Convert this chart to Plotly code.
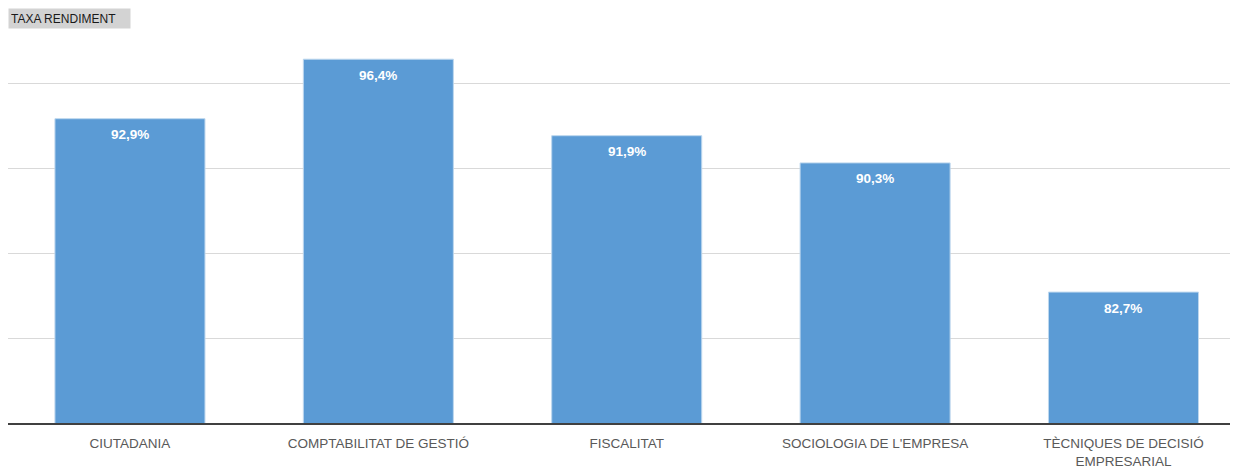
import plotly.graph_objects as go

categories = ["CIUTADANIA", "COMPTABILITAT DE GESTIÓ", "FISCALITAT",
              "SOCIOLOGIA DE L'EMPRESA", "TÈCNIQUES DE DECISIÓ<br>EMPRESARIAL"]
rendiment = [92.9, 96.4, 91.9, 90.3, 82.7]

FONT = "Liberation Sans, Arial, sans-serif"
xs = list(range(len(categories)))

fig = go.Figure()
fig.add_trace(go.Bar(
    x=xs,
    y=rendiment,
    width=0.604,
    marker=dict(color="#5B9BD5", line=dict(color="#BDD7EE", width=1)),
    hoverinfo="skip",
))

annotations = [dict(
    x=x, y=v, xref="x", yref="y", text=f"{v:.1f}%".replace(".", ","),
    showarrow=False, yanchor="middle", yshift=-16,
    font=dict(color="white", size=13.5, family=FONT, weight="bold"),
) for x, v in zip(xs, rendiment)]

annotations.append(dict(
    text="TAXA RENDIMENT", xref="paper", yref="paper",
    x=0, y=1, xanchor="left", yanchor="top",
    width=117, height=15, align="left",
    showarrow=False, bgcolor="#D3D3D3", borderpad=2,
    font=dict(size=12, color="#1a1a1a", family=FONT),
))

fig.update_layout(
    width=1230, height=463,
    margin=dict(l=0, r=0, t=0, b=48),
    paper_bgcolor="white", plot_bgcolor="white",
    separators=",.",
    showlegend=False,
    font=dict(family=FONT, color="#595959", size=13.5),
    xaxis=dict(
        tickmode="array", tickvals=xs, ticktext=categories,
        range=[-0.491, 4.461], showgrid=False, zeroline=False,
        showline=True, linecolor="#404040", linewidth=2,
        ticks="", ticklabelstandoff=7,
        tickfont=dict(size=13.5, color="#595959"),
        fixedrange=True,
    ),
    yaxis=dict(
        range=[75, 75 + 415 / 17], dtick=5, tick0=75,
        showgrid=True, gridcolor="#D9D9D9", gridwidth=1,
        showticklabels=False, zeroline=False, showline=False, ticks="",
        fixedrange=True,
    ),
    annotations=annotations,
)

fig.write_html("out.html")
